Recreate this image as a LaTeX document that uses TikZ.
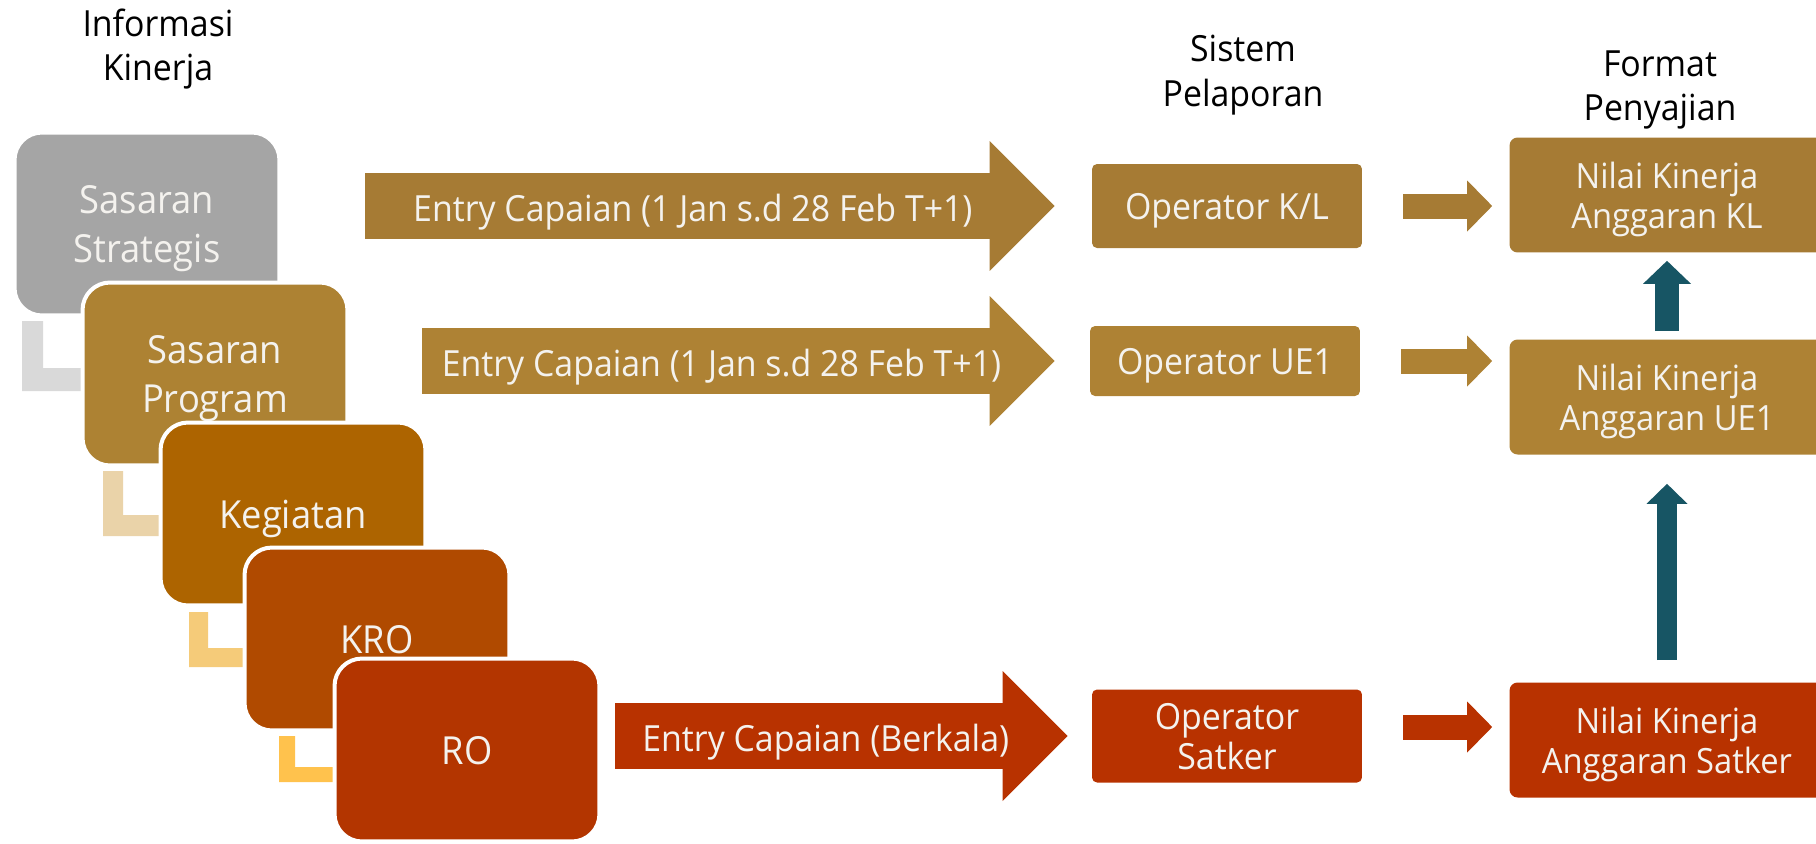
\documentclass[tikz,border=0pt]{standalone}
\usepackage{fontspec}
\setmainfont{Open Sans}[FakeStretch=0.94]
\usetikzlibrary{arrows.meta,positioning}

\definecolor{abu}{HTML}{A5A5A5}
\definecolor{emasSP}{HTML}{AD8233}
\definecolor{oranye}{HTML}{AD6400}
\definecolor{coklat}{HTML}{B04A00}
\definecolor{merahRO}{HTML}{B33500}
\definecolor{emasA}{HTML}{A67B34}
\definecolor{emasB}{HTML}{AE8234}
\definecolor{merah}{HTML}{B83200}
\definecolor{tealgelap}{HTML}{175564}
\definecolor{siku1}{HTML}{D9D9D9}
\definecolor{siku2}{HTML}{EAD3A9}
\definecolor{siku3}{HTML}{F5CB79}
\definecolor{siku4}{HTML}{FFC24D}
\definecolor{putih}{HTML}{F4F2EE}

\begin{document}
\begin{tikzpicture}
[x=0.02cm,y=-0.02cm,
  judul/.style={align=center,font=\fontsize{20.5}{25.5}\selectfont},
  tingkat/.style={rounded corners=0.55cm,draw=white,line width=0.08cm,minimum width=5.3cm,minimum height=3.66cm,align=center,text depth=0pt,text=putih,font=\fontsize{22}{28}\selectfont},
  operator/.style={rounded corners=0.1cm,minimum width=5.4cm,align=center,text depth=0pt,text=putih,font=\fontsize{20.5}{22.7}\selectfont},
  nilai/.style={rounded corners=0.16cm,minimum width=6.3cm,minimum height=2.3cm,align=center,text depth=0pt,text=putih,font=\fontsize{19.8}{22.7}\selectfont},
  batang/.style={line width=1.32cm,-{Triangle[length=1.3cm,width=2.6cm,line width=0pt]}},
  teksbatang/.style={anchor=base,yshift=-0.3cm,text=putih,font=\fontsize{20.5}{24}\selectfont},
  kecil/.style={line width=0.5cm,-{Triangle[length=0.5cm,width=1.02cm,line width=0pt]}},
  naik/.style={tealgelap,line width=0.48cm,-{Triangle[length=0.46cm,width=0.96cm,line width=0pt]}},
  naikpanjang/.style={tealgelap,line width=0.4cm,-{Triangle[length=0.4cm,width=0.82cm,line width=0pt]}}]

  \useasboundingbox (0,0) rectangle (1816,843);

  % judul kolom
  \node[judul] (informasi) at (158,49) {Informasi\\Kinerja};
  \node[judul] (sistem) at (1243,75) {Sistem\\Pelaporan};
  \node[judul] (format) at (1660,90) {Format\\Penyajian};

  % hierarki informasi kinerja
  \node[tingkat,fill=abu] (ss) at (147,224) {Sasaran\\Strategis};
  \fill[siku1] (22,321) -- (43,321) -- (43,368) -- (100,368) -- (100,391) -- (22,391) -- cycle;
  \node[tingkat,fill=emasSP] (sp) at (215,374) {Sasaran\\Program};
  \fill[siku2] (103,471) -- (123,471) -- (123,515) -- (175,515) -- (175,536) -- (103,536) -- cycle;
  \node[tingkat,fill=oranye] (keg) at (293,514) {Kegiatan};
  \fill[siku3] (189,612) -- (208,612) -- (208,648) -- (260,648) -- (260,667) -- (189,667) -- cycle;
  \node[tingkat,fill=coklat] (kro) at (377,639) {KRO};
  \fill[siku4] (279,736) -- (295,736) -- (295,767) -- (350,767) -- (350,782) -- (279,782) -- cycle;
  \node[tingkat,fill=merahRO] (ro) at (467,750) {RO};

  % sistem pelaporan
  \node[operator,fill=emasA,minimum height=1.68cm] (opKL) at (1227,206) {Operator K/L};
  \node[operator,fill=emasB,minimum height=1.4cm] (opUE1) at (1225,361) {Operator UE1};
  \node[operator,fill=merah,minimum height=1.86cm] (opSat) at (1227,736) {Operator\\Satker};

  % format penyajian
  \node[nilai,fill=emasA] (nkKL) at (1667,195) {Nilai Kinerja\\Anggaran KL};
  \node[nilai,fill=emasB] (nkUE1) at (1667,397) {Nilai Kinerja\\Anggaran UE1};
  \node[nilai,fill=merah] (nkSat) at (1667,740) {Nilai Kinerja\\Anggaran Satker};

  % entry capaian
  \draw[batang,emasA] ([xshift=1.68cm]ss.east |- opKL.west) -- node[teksbatang,pos=0.475] (entryKL) {Entry Capaian (1 Jan s.d 28 Feb T+1)} ([xshift=-0.74cm]opKL.west);
  \draw[batang,emasB] ([xshift=1.46cm]sp.east |- opUE1.west) -- node[teksbatang,pos=0.473] (entryUE1) {Entry Capaian (1 Jan s.d 28 Feb T+1)} ([xshift=-0.7cm]opUE1.west);
  \draw[batang,merah] ([xshift=0.28cm]ro.east |- opSat.west) -- node[teksbatang,pos=0.465] (entrySat) {Entry Capaian (Berkala)} ([xshift=-0.48cm]opSat.west);

  \draw[kecil,emasA] ([xshift=0.82cm]opKL.east) -- ([xshift=-0.34cm]nkKL.west |- opKL.east);
  \draw[kecil,emasB] ([xshift=0.82cm]opUE1.east) -- ([xshift=-0.34cm]nkUE1.west |- opUE1.east);
  \draw[kecil,merah] ([xshift=0.82cm,yshift=0.18cm]opSat.east) -- ([xshift=-0.34cm,yshift=0.18cm]nkSat.west |- opSat.east);

  \draw[naik] ([yshift=0.16cm]nkUE1.north) -- ([yshift=-0.16cm]nkKL.south);
  \draw[naikpanjang] ([yshift=0.44cm]nkSat.north) -- ([yshift=-0.58cm]nkUE1.south);

\end{tikzpicture}
\end{document}
